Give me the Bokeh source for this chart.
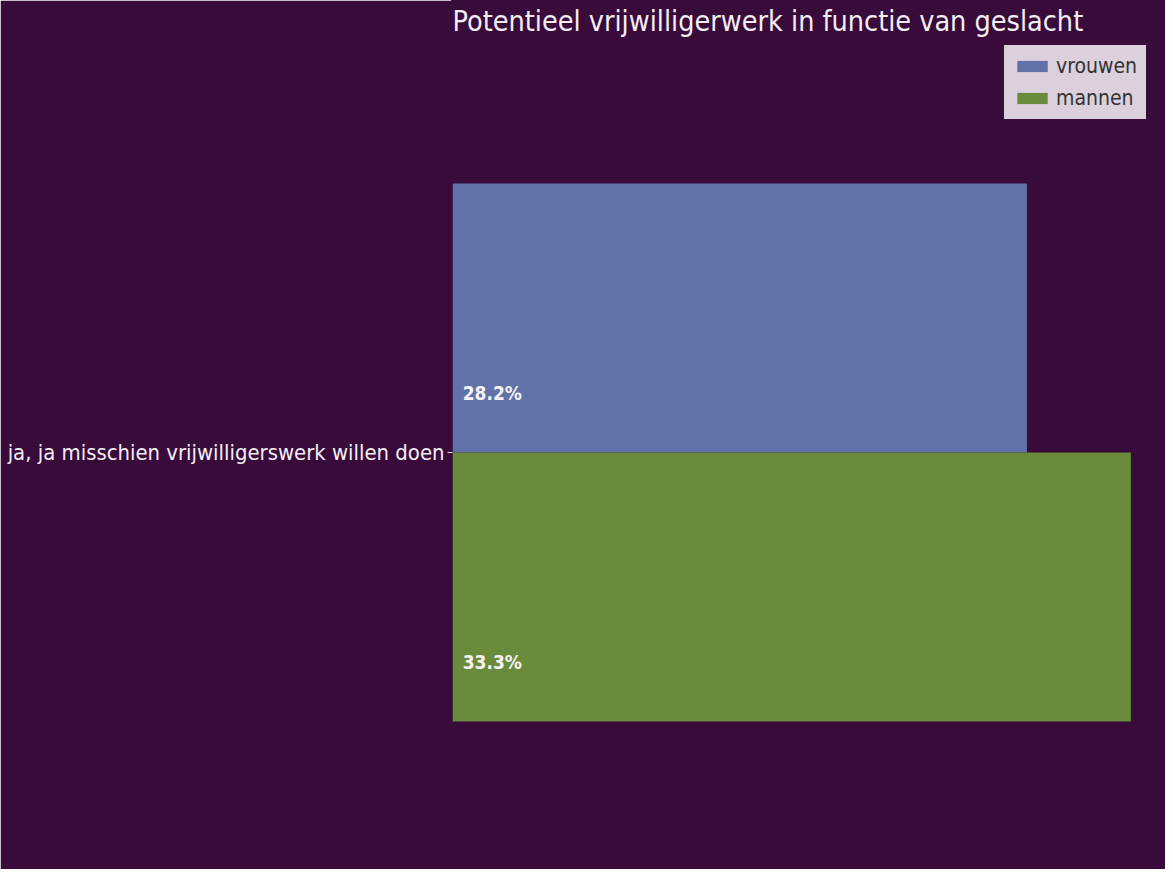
from bokeh.plotting import figure
from bokeh.models import Range1d, FixedTicker, Label, Legend, LegendItem, ColumnDataSource
from bokeh.embed import file_html
from bokeh.resources import INLINE
from bokeh.core.properties import value

title_text = "Potentieel vrijwilligerwerk in functie van geslacht"
category = "ja, ja misschien vrijwilligerswerk willen doen"
series = ["vrouwen", "mannen"]
values = [28.2, 33.3]
colors = ["#6072a8", "#698b3b"]
bar_offsets = [0.125, -0.125]   # vrouwen above, mannen below the category line
bar_height = 0.25

BG = "#380b3b"
FONT = "DejaVu Sans Condensed"

p = figure(width=1165, height=869, output_backend="svg", toolbar_location=None,
           x_range=Range1d(0, 35), y_range=Range1d(-0.3875, 0.4201),
           min_border_left=452, min_border_right=0, min_border_top=0, min_border_bottom=0)
p.background_fill_color = BG
p.border_fill_color = BG
p.outline_line_color = BG
p.outline_line_width = 3
p.grid.visible = False
p.xaxis.visible = False

yax = p.yaxis[0]
yax.ticker = FixedTicker(ticks=[0])
yax.major_label_overrides = {0: category}
yax.axis_line_color = None
yax.minor_tick_line_color = None
yax.major_tick_line_color = "#e8dde8"
yax.major_tick_out = 5
yax.major_tick_in = 0
yax.major_label_text_color = "#f4eef4"
yax.major_label_text_font = FONT
yax.major_label_text_font_size = "21.9px"
yax.major_label_standoff = 3

items = []
for name, v, c, off in zip(series, values, colors, bar_offsets):
    src = ColumnDataSource(dict(y=[off], right=[v], lab=[f"{v}%"], ly=[off - 0.07], lx=[0.5]))
    r = p.hbar(y="y", right="right", left=0, height=bar_height, source=src,
               fill_color=c, line_color=None)
    p.text(x="lx", y="ly", text="lab", source=src, text_color="#f6f2f6",
           text_font=value(FONT), text_font_style="bold", text_font_size="19px",
           text_baseline="middle", text_align="left")
    items.append(LegendItem(label=name, renderers=[r]))

legend = Legend(items=items, location=(552, 750))
legend.background_fill_color = "#e6dbe6"
legend.background_fill_alpha = 0.95
legend.border_line_color = "#d8cfd8"
legend.border_line_alpha = 0.8
legend.label_text_font = FONT
legend.label_text_font_size = "21px"
legend.label_text_color = "#333333"
legend.glyph_width = 38
legend.glyph_height = 14
legend.spacing = 8
legend.padding = 8
legend.margin = 0
p.add_layout(legend)

p.add_layout(Label(x=0, y=848, x_units="screen", y_units="screen", text=title_text,
                   text_color="#f4eef4", text_font=FONT, text_font_size="28.5px",
                   text_baseline="alphabetic", text_align="left"))

open("out.html", "w").write(file_html(p, INLINE))
